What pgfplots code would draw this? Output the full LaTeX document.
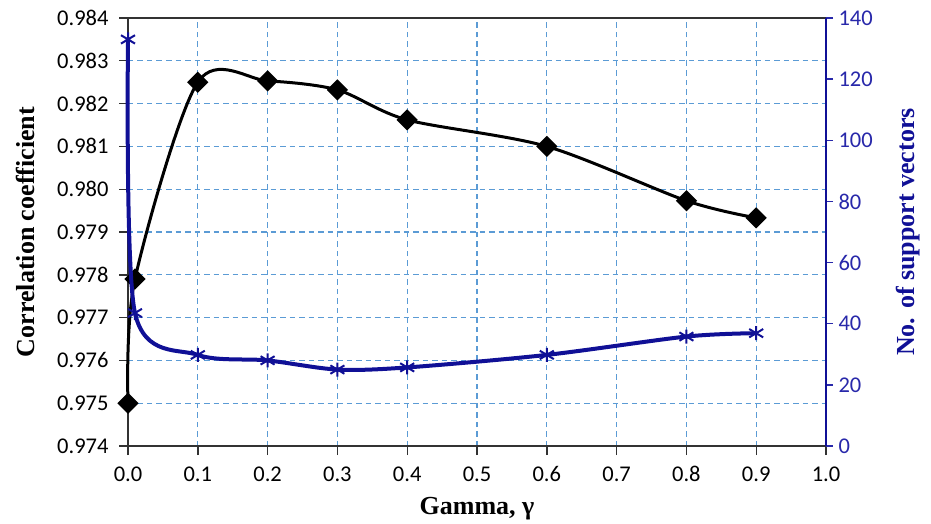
\documentclass[border=0pt]{standalone}
\usepackage{fontspec}
\setmainfont{Carlito}
\newfontfamily\tnr{Liberation Serif}
\usepackage{pgfplots}
\pgfplotsset{compat=1.18}

\definecolor{svblue}{RGB}{16,16,150}
\definecolor{axblue}{RGB}{40,40,170}
\definecolor{gridblue}{RGB}{91,155,213}
\definecolor{axgray}{RGB}{50,50,50}

\pgfdeclareplotmark{xstar}{%
  \pgfpathmoveto{\pgfqpoint{-\pgfplotmarksize}{-0.6\pgfplotmarksize}}%
  \pgfpathlineto{\pgfqpoint{\pgfplotmarksize}{0.6\pgfplotmarksize}}%
  \pgfpathmoveto{\pgfqpoint{-\pgfplotmarksize}{0.6\pgfplotmarksize}}%
  \pgfpathlineto{\pgfqpoint{\pgfplotmarksize}{-0.6\pgfplotmarksize}}%
  \pgfpathmoveto{\pgfqpoint{0pt}{-\pgfplotmarksize}}%
  \pgfpathlineto{\pgfqpoint{0pt}{\pgfplotmarksize}}%
  \pgfusepathqstroke}

\begin{document}
\begin{tikzpicture}
\begin{axis}[name=ax,
  scale only axis, width=698pt, height=428pt,
  xmin=0, xmax=1, ymin=0.974, ymax=0.984,
  xtick={0,0.1,0.2,0.3,0.4,0.5,0.6,0.7,0.8,0.9,1.0},
  ytick={0.974,0.975,0.976,0.977,0.978,0.979,0.980,0.981,0.982,0.983,0.984},
  xtick pos=bottom, ytick pos=left, tick align=outside,
  major tick length=9pt,
  grid=major,
  major grid style={gridblue, dash pattern=on 5.5pt off 4pt, line width=1.3pt},
  axis line style={axgray, line width=1.8pt},
  tick style={axgray, line width=1.4pt},
  ticklabel style={font=\fontsize{22.5}{26}\selectfont},
  /pgf/number format/assume math mode=true,
  scaled y ticks=false, scaled x ticks=false,
  yticklabel style={xshift=-7pt, /pgf/number format/.cd, fixed, fixed zerofill, precision=3},
  xticklabel style={yshift=-8pt, /pgf/number format/.cd, fixed, fixed zerofill, precision=1},
  xlabel={\tnr\bfseries Gamma, γ},
  xlabel style={font=\fontsize{26}{30}\selectfont, at={(axis description cs:0.5,-0.1589)}, anchor=base},
  ylabel={\tnr\bfseries Correlation coefficient},
  ylabel style={font=\fontsize{26}{30}\selectfont, at={(axis description cs:-0.1476,0.5)}, anchor=center},
  clip=false,
]
\addplot[black, line width=3pt, smooth, mark=square*, mark size=6pt,
  mark options={rotate=45, solid, fill=black}] coordinates {
  (0,0.9750) (0.01,0.9779) (0.1,0.9825) (0.2,0.98253) (0.3,0.98232)
  (0.4,0.98162) (0.6,0.9810) (0.8,0.97973) (0.9,0.97933)
};
\end{axis}
\begin{axis}[
  scale only axis, width=698pt, height=428pt,
  xmin=0, xmax=1, ymin=0, ymax=140,
  axis x line=none, axis y line*=right,
  ytick={0,20,40,60,80,100,120,140},
  tick align=outside, major tick length=7pt,
  y axis line style={svblue, line width=1.8pt},
  ytick style={axblue, line width=1.4pt},
  yticklabel style={axblue, xshift=2pt, font=\fontsize{22.5}{26}\selectfont},
  /pgf/number format/assume math mode=true,
  ylabel={\tnr\bfseries No. of support vectors},
  ylabel style={svblue, font=\fontsize{26}{30}\selectfont, at={(axis description cs:1.1175,0.5)}, anchor=center},
  clip=false,
]
\addplot[svblue, line width=4pt, smooth, mark=xstar, mark size=7pt,
  mark options={solid, line width=2pt}] coordinates {
  (0,133) (0.01,43.5) (0.1,29.8) (0.2,28) (0.3,25) (0.4,25.7)
  (0.6,29.8) (0.8,35.8) (0.9,36.9)
};
\end{axis}
\pgfresetboundingbox
\path ([shift={(-128pt,-77pt)}]ax.south west) rectangle ([shift={(105pt,18pt)}]ax.north east);
\end{tikzpicture}
\end{document}
